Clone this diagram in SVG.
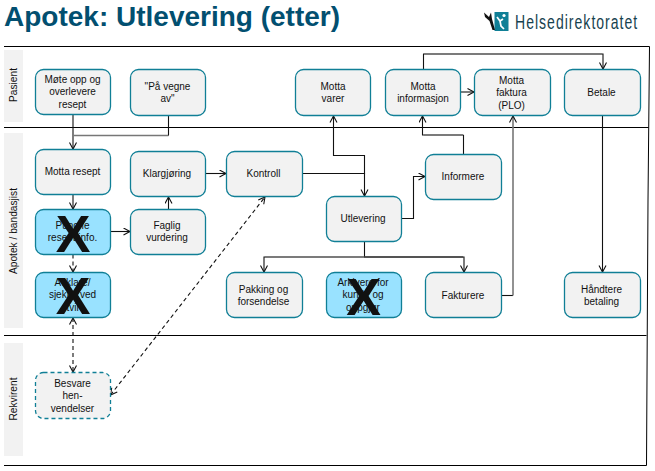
<svg xmlns="http://www.w3.org/2000/svg" width="655" height="471" viewBox="0 0 655 471">
<style>
text{font-family:"Liberation Sans",Arial,sans-serif;fill:#111}
.n{font-size:10px;text-anchor:middle}
.b{fill:#f2f2f2;stroke:#107f96;stroke-width:1.3}
.c{fill:#99e2ff;stroke:#107f96;stroke-width:1.3}
.d{fill:#f2f2f2;stroke:#107f96;stroke-width:1.3;stroke-dasharray:4 3}
.l{font-size:10.2px;text-anchor:middle}
.x{font-size:52px;font-weight:700;text-anchor:middle;fill:#111}
.w{fill:none;stroke:#111;stroke-width:1.1}
.g{fill:none;stroke:#777;stroke-width:1.6}
.k{fill:none;stroke:#111;stroke-width:1.1;stroke-dasharray:4 3}
.a{marker-end:url(#ah)}
.s{marker-start:url(#ahs)}
.f{stroke:#000;stroke-width:1;fill:none}
.band{fill:#f2f2f2}
</style>
<defs>
<marker id="ah" markerUnits="userSpaceOnUse" markerWidth="10" markerHeight="10" refX="7" refY="4" orient="auto"><path d="M0.5 0.5L7 4L0.5 7.5" fill="none" stroke="#111" stroke-width="1.1"/></marker>
<marker id="ahs" markerUnits="userSpaceOnUse" markerWidth="10" markerHeight="10" refX="1" refY="4" orient="auto"><path d="M7.5 0.5L1 4L7.5 7.5" fill="none" stroke="#111" stroke-width="1.1"/></marker>
</defs>
<rect width="655" height="471" fill="#fff"/>
<text id="title" x="4" y="26" font-size="28" font-weight="700" style="fill:#024f70">Apotek: Utlevering (etter)</text>
<g id="logo">
<rect x="494.500" y="12" width="14" height="19" fill="#107f96"/>
<path d="M484 12.500L489 17L491 12.500L492 19L495 30L492.500 30L489.500 21L485 17Z" fill="#111"/>
<circle cx="504" cy="15.500" r="1.600" fill="#fff"/>
<path d="M497 17L500 21L503 19M500 21L501 26L504 29" fill="none" stroke="#fff" stroke-width="1.700"/>
<text transform="translate(515 29) scale(.72 1)" font-size="19.500" letter-spacing="1.400" style="fill:#17424f">Helsedirektoratet</text>
</g>
<g id="lanes">
<rect class="band" x="4" y="50" width="19" height="72"/>
<rect class="band" x="4" y="133" width="19" height="195"/>
<rect class="band" x="4" y="343" width="19" height="113"/>
<path class="f" d="M4 46.500H649.500L648 200L646.500 465.500M4 127.500H648.500M4 335.500H646.500M4 465.500H646.500"/>
<text class="l" transform="translate(17 85) rotate(-90)">Pasient</text>
<text class="l" transform="translate(17 231) rotate(-90)">Apotek / bandasjist</text>
<text class="l" transform="translate(17 399) rotate(-90)">Rekvirent</text>
</g>
<g id="connectors">
<path class="w a" d="M73 114.500V149"/>
<path class="g" d="M73.500 135.500H168.500"/>
<path class="w" d="M168.500 115.500V135.500"/>
<path class="w a" d="M73 194.500V209"/>
<path class="w a" d="M110.500 231.500H130"/>
<path class="w a" d="M168.500 209.500V197"/>
<path class="w a" d="M205.500 173.500H226"/>
<path class="w a" d="M302.500 173.500H364.500V196"/>
<path class="w s" d="M333.500 116V155.500H364.500V174"/>
<path class="w a" d="M401.500 218.500H413.500V176.500H425"/>
<path class="w" d="M463.500 154.500V135"/>
<path class="w a" d="M463.500 135H422.500V116"/>
<path class="g" d="M424 135H463"/>
<path class="w a" d="M461 92H474"/>
<path class="w a" d="M423.500 69.500V54H603V69"/>
<path class="g" d="M424 54H602"/>
<path class="w a" d="M602.500 115.500V272"/>
<path class="w" d="M364.500 241.500V257"/>
<path class="w a" d="M364 257H264V272"/>
<path class="g" d="M265 257H463"/>
<path class="w a" d="M364 257H464V272"/>
<path class="w" d="M501.500 295.500H513"/>
<path class="g a" d="M513 295.500V116"/>
<path class="k a" d="M73 254.500V272"/>
<path class="k a s" d="M73 318V372"/>
<path class="k a s" d="M110.500 395L265 197"/>
</g>
<g id="n-mote"><rect class="b" x="35.500" y="69.500" width="75" height="45" rx="8"/><text class="n" x="72.500" y="83">Møte opp og</text><text class="n" x="72.500" y="95">overlevere</text><text class="n" x="72.500" y="108">resept</text></g>
<g id="n-vegne"><rect class="b" x="130.500" y="69.500" width="75" height="46" rx="8"/><text class="n" x="167.500" y="90">"På vegne</text><text class="n" x="167.500" y="102">av"</text></g>
<g id="n-varer"><rect class="b" x="295.500" y="69.500" width="75" height="46" rx="8"/><text class="n" x="333" y="90">Motta</text><text class="n" x="333" y="102">varer</text></g>
<g id="n-info"><rect class="b" x="385.500" y="69.500" width="75" height="46" rx="8"/><text class="n" x="423" y="90">Motta</text><text class="n" x="423" y="102">informasjon</text></g>
<g id="n-faktura"><rect class="b" x="474.500" y="69.500" width="76" height="46" rx="8"/><text class="n" x="511.500" y="84">Motta</text><text class="n" x="511.500" y="96">faktura</text><text class="n" x="511.500" y="109">(PLO)</text></g>
<g id="n-betale"><rect class="b" x="564.500" y="69.500" width="76" height="46" rx="8"/><text class="n" x="601.500" y="96">Betale</text></g>
<g id="n-resept"><rect class="b" x="35.500" y="149.500" width="75" height="45" rx="8"/><text class="n" x="72.500" y="175">Motta resept</text></g>
<g id="n-klar"><rect class="b" x="130.500" y="151.500" width="75" height="45" rx="8"/><text class="n" x="167" y="177">Klargjøring</text></g>
<g id="n-kontroll"><rect class="b" x="226.500" y="151.500" width="76" height="45" rx="8"/><text class="n" x="263.500" y="177">Kontroll</text></g>
<g id="n-informere"><rect class="b" x="425.500" y="154.500" width="76" height="45" rx="8"/><text class="n" x="463" y="180">Informere</text></g>
<g id="n-utlevering"><rect class="b" x="326.500" y="196.500" width="75" height="45" rx="8"/><text class="n" x="363" y="222">Utlevering</text></g>
<g id="n-punche"><rect class="c" x="35.500" y="209.500" width="75" height="45" rx="8"/><text class="n" x="72.500" y="229">Punche</text><text class="n" x="72.500" y="241">resept info.</text><text class="x" x="73" y="252">X</text></g>
<g id="n-faglig"><rect class="b" x="130.500" y="209.500" width="75" height="45" rx="8"/><text class="n" x="167" y="229">Faglig</text><text class="n" x="167" y="241">vurdering</text></g>
<g id="n-avklare"><rect class="c" x="35.500" y="272.500" width="75" height="45" rx="8"/><text class="n" x="72.500" y="286">Avklare/</text><text class="n" x="72.500" y="298">sjekke ved</text><text class="n" x="72.500" y="311">tvil</text><text class="x" x="73" y="314">X</text></g>
<g id="n-pakking"><rect class="b" x="226.500" y="272.500" width="76" height="45" rx="8"/><text class="n" x="263.500" y="293">Pakking og</text><text class="n" x="263.500" y="305">forsendelse</text></g>
<g id="n-arkivere"><rect class="c" x="326.500" y="272.500" width="75" height="45" rx="8"/><text class="n" x="363" y="286">Arkivere for</text><text class="n" x="363" y="298">kunde og</text><text class="n" x="363" y="311">oppgjør</text><text class="x" x="363.500" y="315">X</text></g>
<g id="n-fakturere"><rect class="b" x="425.500" y="272.500" width="76" height="45" rx="8"/><text class="n" x="463" y="299">Fakturere</text></g>
<g id="n-handtere"><rect class="b" x="564.500" y="272.500" width="76" height="45" rx="8"/><text class="n" x="601.500" y="293">Håndtere</text><text class="n" x="601.500" y="305">betaling</text></g>
<g id="n-besvare"><rect class="d" x="35.500" y="372.500" width="75" height="46" rx="8"/><text class="n" x="72.500" y="387">Besvare</text><text class="n" x="72.500" y="399">hen-</text><text class="n" x="72.500" y="412">vendelser</text></g>
</svg>
